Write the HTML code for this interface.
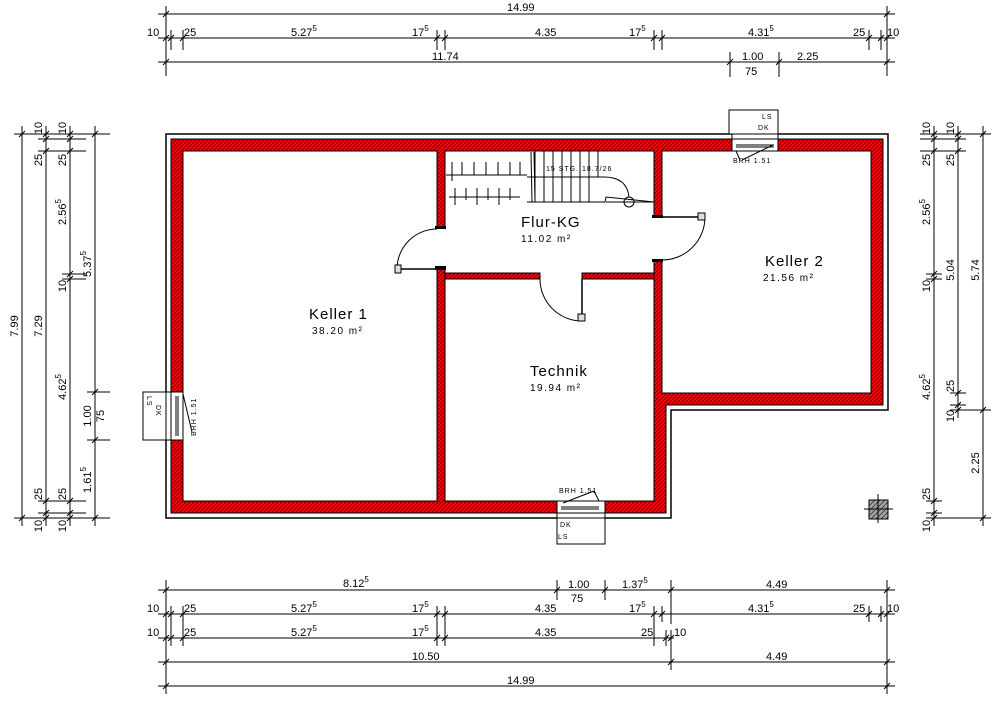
<!DOCTYPE html>
<html><head><meta charset="utf-8"><style>
html,body{margin:0;padding:0;background:#fff;}
svg{display:block;font-family:"Liberation Sans",sans-serif;}
.d line,.d polyline{stroke:#000;stroke-width:1;}
text{fill:#000;}
.dt{font-size:11px;}
.sm{font-size:7px;letter-spacing:1px;}
.rm{font-size:15px;letter-spacing:1px;}
.ar{font-size:10px;letter-spacing:1.5px;}
</style></head><body>
<svg width="1000" height="701" viewBox="0 0 1000 701" xmlns="http://www.w3.org/2000/svg">
<defs>
<pattern id="h" patternUnits="userSpaceOnUse" width="4" height="4">
<rect width="4" height="4" fill="#e8080a"/>
<line x1="0" y1="4" x2="4" y2="0" stroke="#5a0000" stroke-width="0.7"/>
</pattern>
<pattern id="g" patternUnits="userSpaceOnUse" width="5" height="5">
<rect width="5" height="5" fill="#a0a0a0"/>
<line x1="0" y1="5" x2="5" y2="0" stroke="#333" stroke-width="0.8"/>
</pattern>
<g id="t"><line x1="0" y1="-7" x2="0" y2="7" stroke="#000"/><line x1="-3" y1="3" x2="3" y2="-3" stroke="#000"/></g>
<g id="v"><line x1="-7" y1="0" x2="7" y2="0" stroke="#000"/><line x1="-3" y1="3" x2="3" y2="-3" stroke="#000"/></g>
</defs>

<!-- building -->
<polygon points="166,134 888,134 888,410 671,410 671,518 166,518" fill="#fff" stroke="#000" stroke-width="1.5"/>
<polygon points="171,139 883,139 883,405 666,405 666,513 171,513" fill="url(#h)" stroke="#000" stroke-width="1"/>
<rect x="183" y="151" width="254" height="350" fill="#fff" stroke="#000"/>
<rect x="445" y="151" width="209" height="350" fill="#fff" stroke="#000"/>
<rect x="662" y="151" width="209" height="242" fill="#fff" stroke="#000"/>
<!-- openings -->
<rect x="436" y="227" width="10" height="42" fill="#fff"/>
<rect x="653" y="217" width="10" height="44" fill="#fff"/>
<rect x="435" y="266" width="11" height="4" fill="#000"/>
<rect x="435" y="226" width="11" height="3" fill="#000"/>
<rect x="652" y="259" width="11" height="3" fill="#000"/>
<rect x="652" y="215" width="11" height="3" fill="#000"/>
<!-- horizontal interior wall -->
<rect x="445" y="273" width="95" height="6" fill="url(#h)" stroke="#000"/>
<rect x="582" y="273" width="72" height="6" fill="url(#h)" stroke="#000"/>

<!-- doors -->
<g fill="none" stroke="#000" stroke-width="1">
<path d="M397,269 A40,40 0 0 1 437,229"/>
<line x1="397" y1="269" x2="437" y2="269" stroke-width="1.5"/>
<rect x="395" y="265" width="6" height="8" fill="#ddd"/>
<path d="M705,217 A43,43 0 0 1 662,260"/>
<line x1="662" y1="217" x2="705" y2="217" stroke-width="1.5"/>
<rect x="698" y="213" width="7" height="7" fill="#ddd"/>
<path d="M540,279 A42,42 0 0 0 582,321"/>
<line x1="582" y1="279" x2="582" y2="321" stroke-width="1.5"/>
<rect x="578" y="314" width="7" height="7" fill="#ddd"/>
</g>

<!-- stairs -->
<g stroke="#000" stroke-width="1" fill="none">
<line x1="531" y1="152" x2="532" y2="202"/><line x1="534" y1="152" x2="535" y2="202"/>
<line x1="535" y1="151" x2="535" y2="202"/><line x1="544" y1="151" x2="544" y2="202"/>
<line x1="553" y1="151" x2="553" y2="202"/><line x1="562" y1="151" x2="562" y2="202"/>
<line x1="571" y1="151" x2="571" y2="202"/><line x1="580" y1="151" x2="580" y2="202"/>
<line x1="589" y1="151" x2="589" y2="202"/><line x1="598" y1="151" x2="598" y2="177"/>
<line x1="527" y1="177" x2="605" y2="177"/>
<polyline points="527,202 605,202 606,197 654,202"/>
<line x1="606" y1="202" x2="654" y2="202"/>
<path d="M604,177 Q627,177 629,197"/>
<circle cx="629" cy="202" r="5"/>
<line x1="446" y1="175" x2="527" y2="175"/>
<line x1="449" y1="197" x2="520" y2="197"/>
<line x1="452" y1="162" x2="452" y2="181"/><line x1="462" y1="162" x2="462" y2="175"/>
<line x1="474" y1="162" x2="474" y2="175"/><line x1="486" y1="162" x2="486" y2="175"/>
<line x1="498" y1="162" x2="498" y2="175"/><line x1="510" y1="162" x2="510" y2="175"/>
<line x1="520" y1="162" x2="520" y2="175"/>
<line x1="455" y1="188" x2="455" y2="205"/><line x1="466" y1="188" x2="466" y2="200"/>
<line x1="477" y1="188" x2="477" y2="205"/><line x1="488" y1="188" x2="488" y2="200"/>
<line x1="499" y1="188" x2="499" y2="205"/><line x1="510" y1="188" x2="510" y2="200"/>
</g>
<text x="546" y="171" class="sm">15 STG. 18.7/26</text>

<!-- windows -->
<g stroke="#000" fill="#fff" stroke-width="1">
<rect x="171" y="392" width="12" height="48"/>
<rect x="166" y="392" width="5" height="48"/>
<line x1="176" y1="396" x2="176" y2="436"/><line x1="178" y1="396" x2="178" y2="436"/>
<rect x="143" y="392" width="23" height="48"/>
<line x1="183" y1="394" x2="192" y2="432" fill="none"/>
<rect x="732" y="139" width="46" height="12"/>
<rect x="732" y="134" width="46" height="5"/>
<line x1="736" y1="145" x2="774" y2="145"/><line x1="736" y1="147" x2="774" y2="147"/>
<rect x="729" y="110" width="49" height="24"/>
<line x1="736" y1="151" x2="740" y2="160" fill="none"/><line x1="742" y1="160" x2="773" y2="145" fill="none"/>
<rect x="557" y="501" width="48" height="12"/>
<rect x="557" y="513" width="48" height="5"/>
<line x1="561" y1="507" x2="599" y2="507"/><line x1="561" y1="509" x2="599" y2="509"/>
<rect x="557" y="518" width="48" height="26"/>
<line x1="563" y1="503" x2="594" y2="491" fill="none"/><line x1="594" y1="491" x2="599" y2="501" fill="none"/>
</g>
<text class="sm" x="762" y="119">LS</text><text class="sm" x="758" y="130">DK</text>
<text class="sm" x="733" y="163">BRH 1.51</text>
<text class="sm" x="560" y="527">DK</text><text class="sm" x="558" y="539">LS</text>
<text class="sm" x="559" y="493">BRH 1.51</text>
<text class="sm" transform="rotate(90 147 396)" x="147" y="396">LS</text>
<text class="sm" transform="rotate(90 156 405)" x="156" y="405">DK</text>
<text class="sm" transform="rotate(-90 196 436)" x="196" y="436">BRH 1.51</text>

<rect x="869" y="500" width="19" height="19" fill="url(#g)" stroke="#000"/>
<line x1="864" y1="509" x2="893" y2="509" stroke="#000"/><line x1="878" y1="494" x2="878" y2="523" stroke="#000"/>

<!-- room labels -->
<text class="rm" x="309" y="319">Keller 1</text><text class="ar" x="312" y="334">38.20 m²</text>
<text class="rm" x="521" y="227">Flur-KG</text><text class="ar" x="521" y="242">11.02 m²</text>
<text class="rm" x="765" y="266">Keller 2</text><text class="ar" x="763" y="281">21.56 m²</text>
<text class="rm" x="530" y="376">Technik</text><text class="ar" x="530" y="391">19.94 m²</text>

<!-- top dims -->
<g class="d">
<line x1="158" y1="14" x2="895" y2="14"/><line x1="166" y1="6" x2="166" y2="76"/><line x1="887" y1="6" x2="887" y2="76"/>
<line x1="158" y1="38" x2="895" y2="38"/>
<line x1="171" y1="30" x2="171" y2="50"/><line x1="183" y1="30" x2="183" y2="50"/><line x1="437" y1="30" x2="437" y2="50"/><line x1="445" y1="30" x2="445" y2="50"/>
<line x1="654" y1="30" x2="654" y2="50"/><line x1="662" y1="30" x2="662" y2="50"/><line x1="869" y1="30" x2="869" y2="50"/><line x1="881" y1="30" x2="881" y2="50"/>
<line x1="158" y1="62" x2="895" y2="62"/><line x1="730" y1="52" x2="730" y2="77"/><line x1="779" y1="52" x2="779" y2="77"/>
</g>
<use href="#t" x="166" y="14"/><use href="#t" x="887" y="14"/>
<use href="#t" x="166" y="38"/><use href="#t" x="171" y="38"/><use href="#t" x="183" y="38"/><use href="#t" x="437" y="38"/><use href="#t" x="445" y="38"/><use href="#t" x="654" y="38"/><use href="#t" x="662" y="38"/><use href="#t" x="869" y="38"/><use href="#t" x="881" y="38"/><use href="#t" x="887" y="38"/>
<use href="#t" x="166" y="62"/><use href="#t" x="730" y="62"/><use href="#t" x="779" y="62"/><use href="#t" x="887" y="62"/>
<g class="dt">
<text x="507" y="11">14.99</text>
<text x="147" y="36">10</text><text x="184" y="36">25</text><text x="291" y="36">5.27<tspan dy="-5" font-size="8">5</tspan></text>
<text x="412" y="36">17<tspan dy="-5" font-size="8">5</tspan></text><text x="535" y="36">4.35</text>
<text x="629" y="36">17<tspan dy="-5" font-size="8">5</tspan></text><text x="748" y="36">4.31<tspan dy="-5" font-size="8">5</tspan></text>
<text x="853" y="36">25</text><text x="887" y="36">10</text>
<text x="432" y="60">11.74</text><text x="742" y="60">1.00</text><text x="745" y="75">75</text><text x="797" y="60">2.25</text>
</g>

<!-- bottom dims -->
<g class="d">
<line x1="158" y1="590" x2="895" y2="590"/><line x1="166" y1="580" x2="166" y2="694"/><line x1="887" y1="580" x2="887" y2="694"/>
<line x1="557" y1="580" x2="557" y2="600"/><line x1="605" y1="580" x2="605" y2="600"/><line x1="671" y1="580" x2="671" y2="624"/>
<line x1="158" y1="614" x2="895" y2="614"/>
<line x1="171" y1="606" x2="171" y2="646"/><line x1="183" y1="606" x2="183" y2="646"/><line x1="437" y1="606" x2="437" y2="646"/><line x1="445" y1="606" x2="445" y2="646"/>
<line x1="654" y1="606" x2="654" y2="646"/><line x1="662" y1="606" x2="662" y2="622"/><line x1="869" y1="606" x2="869" y2="622"/><line x1="881" y1="606" x2="881" y2="622"/>
<line x1="158" y1="638" x2="674" y2="638"/><line x1="666" y1="630" x2="666" y2="646"/><line x1="671" y1="630" x2="671" y2="670"/>
<line x1="158" y1="662" x2="895" y2="662"/><line x1="671" y1="654" x2="671" y2="670"/>
<line x1="158" y1="686" x2="895" y2="686"/>
</g>
<use href="#t" x="166" y="590"/><use href="#t" x="557" y="590"/><use href="#t" x="605" y="590"/><use href="#t" x="671" y="590"/><use href="#t" x="887" y="590"/>
<use href="#t" x="166" y="614"/><use href="#t" x="171" y="614"/><use href="#t" x="183" y="614"/><use href="#t" x="437" y="614"/><use href="#t" x="445" y="614"/><use href="#t" x="654" y="614"/><use href="#t" x="662" y="614"/><use href="#t" x="869" y="614"/><use href="#t" x="881" y="614"/><use href="#t" x="887" y="614"/>
<use href="#t" x="166" y="638"/><use href="#t" x="171" y="638"/><use href="#t" x="183" y="638"/><use href="#t" x="437" y="638"/><use href="#t" x="445" y="638"/><use href="#t" x="666" y="638"/><use href="#t" x="671" y="638"/>
<use href="#t" x="166" y="662"/><use href="#t" x="671" y="662"/><use href="#t" x="887" y="662"/>
<use href="#t" x="166" y="686"/><use href="#t" x="887" y="686"/>
<g class="dt">
<text x="343" y="587">8.12<tspan dy="-5" font-size="8">5</tspan></text><text x="568" y="588">1.00</text><text x="571" y="602">75</text>
<text x="622" y="588">1.37<tspan dy="-5" font-size="8">5</tspan></text><text x="766" y="588">4.49</text>
<text x="147" y="612">10</text><text x="184" y="612">25</text><text x="291" y="612">5.27<tspan dy="-5" font-size="8">5</tspan></text>
<text x="412" y="612">17<tspan dy="-5" font-size="8">5</tspan></text><text x="535" y="612">4.35</text>
<text x="629" y="612">17<tspan dy="-5" font-size="8">5</tspan></text><text x="748" y="612">4.31<tspan dy="-5" font-size="8">5</tspan></text>
<text x="853" y="612">25</text><text x="887" y="612">10</text>
<text x="147" y="636">10</text><text x="184" y="636">25</text><text x="291" y="636">5.27<tspan dy="-5" font-size="8">5</tspan></text>
<text x="412" y="636">17<tspan dy="-5" font-size="8">5</tspan></text><text x="535" y="636">4.35</text>
<text x="641" y="636">25</text><text x="674" y="636">10</text>
<text x="412" y="660">10.50</text><text x="766" y="660">4.49</text>
<text x="507" y="684">14.99</text>
</g>

<!-- left dims -->
<g class="d">
<line x1="22" y1="126" x2="22" y2="526"/><line x1="14" y1="134" x2="110" y2="134"/><line x1="14" y1="518" x2="110" y2="518"/>
<line x1="46" y1="126" x2="46" y2="526"/><line x1="38" y1="139" x2="86" y2="139"/><line x1="38" y1="151" x2="86" y2="151"/><line x1="38" y1="501" x2="86" y2="501"/><line x1="38" y1="513" x2="86" y2="513"/>
<line x1="70" y1="126" x2="70" y2="526"/><line x1="62" y1="274" x2="86" y2="274"/><line x1="62" y1="279" x2="86" y2="279"/>
<line x1="95" y1="126" x2="95" y2="526"/><line x1="87" y1="392" x2="110" y2="392"/><line x1="87" y1="440" x2="110" y2="440"/>
</g>
<use href="#v" x="22" y="134"/><use href="#v" x="22" y="518"/>
<use href="#v" x="46" y="134"/><use href="#v" x="46" y="139"/><use href="#v" x="46" y="151"/><use href="#v" x="46" y="501"/><use href="#v" x="46" y="513"/><use href="#v" x="46" y="518"/>
<use href="#v" x="70" y="134"/><use href="#v" x="70" y="139"/><use href="#v" x="70" y="151"/><use href="#v" x="70" y="274"/><use href="#v" x="70" y="279"/><use href="#v" x="70" y="501"/><use href="#v" x="70" y="513"/><use href="#v" x="70" y="518"/>
<use href="#v" x="95" y="134"/><use href="#v" x="95" y="392"/><use href="#v" x="95" y="440"/><use href="#v" x="95" y="518"/>
<g class="dt" text-anchor="middle">
<text transform="translate(18,326) rotate(-90)">7.99</text>
<text transform="translate(42,326) rotate(-90)">7.29</text>
<text transform="translate(42,128) rotate(-90)">10</text><text transform="translate(66,128) rotate(-90)">10</text>
<text transform="translate(42,160) rotate(-90)">25</text><text transform="translate(66,160) rotate(-90)">25</text>
<text transform="translate(66,212) rotate(-90)">2.56<tspan dy="-5" font-size="8">5</tspan></text>
<text transform="translate(66,286) rotate(-90)">10</text>
<text transform="translate(66,387) rotate(-90)">4.62<tspan dy="-5" font-size="8">5</tspan></text>
<text transform="translate(42,494) rotate(-90)">25</text><text transform="translate(66,494) rotate(-90)">25</text>
<text transform="translate(42,526) rotate(-90)">10</text><text transform="translate(66,526) rotate(-90)">10</text>
<text transform="translate(91,264) rotate(-90)">5.37<tspan dy="-5" font-size="8">5</tspan></text>
<text transform="translate(91,416) rotate(-90)">1.00</text><text transform="translate(104,416) rotate(-90)">75</text>
<text transform="translate(91,480) rotate(-90)">1.61<tspan dy="-5" font-size="8">5</tspan></text>
</g>

<!-- right dims -->
<g class="d">
<line x1="934" y1="126" x2="934" y2="526"/><line x1="920" y1="134" x2="991" y2="134"/><line x1="920" y1="139" x2="966" y2="139"/><line x1="920" y1="151" x2="966" y2="151"/>
<line x1="926" y1="274" x2="942" y2="274"/><line x1="926" y1="279" x2="942" y2="279"/>
<line x1="926" y1="501" x2="942" y2="501"/><line x1="926" y1="513" x2="942" y2="513"/><line x1="926" y1="518" x2="991" y2="518"/>
<line x1="958" y1="126" x2="958" y2="418"/><line x1="950" y1="393" x2="966" y2="393"/><line x1="950" y1="405" x2="966" y2="405"/><line x1="950" y1="410" x2="991" y2="410"/>
<line x1="983" y1="126" x2="983" y2="526"/>
</g>
<use href="#v" x="934" y="134"/><use href="#v" x="934" y="139"/><use href="#v" x="934" y="151"/><use href="#v" x="934" y="274"/><use href="#v" x="934" y="279"/><use href="#v" x="934" y="501"/><use href="#v" x="934" y="513"/><use href="#v" x="934" y="518"/>
<use href="#v" x="958" y="134"/><use href="#v" x="958" y="139"/><use href="#v" x="958" y="151"/><use href="#v" x="958" y="393"/><use href="#v" x="958" y="405"/><use href="#v" x="958" y="410"/>
<use href="#v" x="983" y="134"/><use href="#v" x="983" y="410"/><use href="#v" x="983" y="518"/>
<g class="dt" text-anchor="middle">
<text transform="translate(930,128) rotate(-90)">10</text><text transform="translate(954,128) rotate(-90)">10</text>
<text transform="translate(930,160) rotate(-90)">25</text><text transform="translate(954,160) rotate(-90)">25</text>
<text transform="translate(930,212) rotate(-90)">2.56<tspan dy="-5" font-size="8">5</tspan></text>
<text transform="translate(930,286) rotate(-90)">10</text>
<text transform="translate(930,387) rotate(-90)">4.62<tspan dy="-5" font-size="8">5</tspan></text>
<text transform="translate(930,494) rotate(-90)">25</text><text transform="translate(930,526) rotate(-90)">10</text>
<text transform="translate(954,270) rotate(-90)">5.04</text>
<text transform="translate(954,386) rotate(-90)">25</text><text transform="translate(954,416) rotate(-90)">10</text>
<text transform="translate(979,270) rotate(-90)">5.74</text>
<text transform="translate(979,463) rotate(-90)">2.25</text>
</g>
</svg>
</body></html>
